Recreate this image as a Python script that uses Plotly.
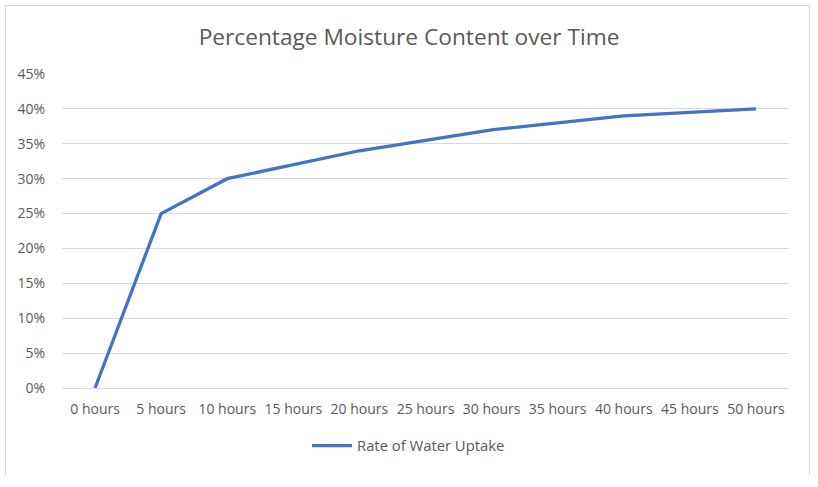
import plotly.graph_objects as go

categories = ["0 hours", "5 hours", "10 hours", "15 hours", "20 hours", "25 hours",
              "30 hours", "35 hours", "40 hours", "45 hours", "50 hours"]
moisture = [0.0, 0.25, 0.30, 0.32, 0.34, 0.355, 0.37, 0.38, 0.39, 0.395, 0.40]
series_name = "Rate of Water Uptake"
y_ticks = [0, 0.05, 0.10, 0.15, 0.20, 0.25, 0.30, 0.35, 0.40, 0.45]

FONT = "Open Sans, Liberation Sans, sans-serif"
GRAY = "#595959"
GRID = "#D9D9D9"

W, H = 818, 487
L, R, T, B = 62, 29, 74, 99
PW, PH = W - L - R, H - T - B

fig = go.Figure()
fig.add_trace(go.Scatter(
    x=categories, y=moisture, mode="lines", name=series_name,
    line=dict(color="#4472C4", width=3.3),
))

def px_x(p):
    return (p - L) / PW

def px_y(p):
    return (H - B - p) / PH

fig.update_layout(
    width=W, height=H,
    paper_bgcolor="white", plot_bgcolor="white",
    margin=dict(l=L, r=R, t=T, b=B),
    title=dict(text="Percentage Moisture Content over Time",
               x=0.5, xanchor="center", y=1 - 37 / H, yanchor="middle",
               font=dict(family=FONT, size=22.7, color=GRAY)),
    font=dict(family=FONT, size=14, color=GRAY),
    showlegend=True,
    legend=dict(orientation="h", x=px_x(307), xanchor="left", y=px_y(446), yanchor="middle",
                font=dict(family=FONT, size=14.8, color=GRAY),
                itemwidth=40, bgcolor="rgba(0,0,0,0)"),
    xaxis=dict(type="category", showgrid=False, showline=False, zeroline=False,
               ticks="", tickfont=dict(family=FONT, size=14, color=GRAY),
               ticklabelstandoff=11,
               range=[-0.5, 10.5], fixedrange=True),
    yaxis=dict(range=[0, 0.45], tickvals=y_ticks, tickformat=".0%",
               showgrid=True, gridcolor=GRID, gridwidth=1,
               zeroline=True, zerolinecolor=GRID, zerolinewidth=1,
               showline=False, ticks="", ticklabelstandoff=16,
               tickfont=dict(family=FONT, size=14, color=GRAY), fixedrange=True),
    shapes=[
        dict(type="line", xref="paper", yref="paper",
             x0=px_x(5.5), x1=px_x(5.5), y0=px_y(475), y1=px_y(5.5),
             line=dict(color=GRID, width=1.2)),
        dict(type="line", xref="paper", yref="paper",
             x0=px_x(5.5), x1=px_x(809.5), y0=px_y(5.5), y1=px_y(5.5),
             line=dict(color=GRID, width=1.2)),
        dict(type="line", xref="paper", yref="paper",
             x0=px_x(809.5), x1=px_x(809.5), y0=px_y(475), y1=px_y(5.5),
             line=dict(color=GRID, width=1.2)),
    ],
)

fig.write_html("out.html", config={"displayModeBar": False},
               post_script="document.body.style.margin='0';document.body.style.overflow='hidden';")
